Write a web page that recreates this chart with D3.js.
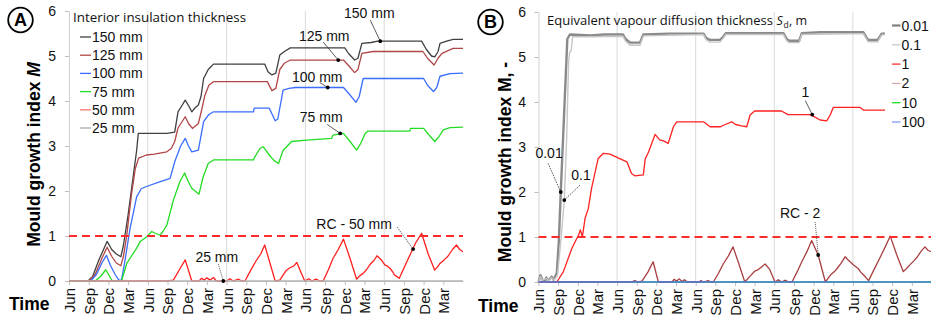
<!DOCTYPE html>
<html lang="en">
<head>
<meta charset="utf-8">
<style>
    body { margin: 0; background: #fff; }
    svg { display: block; }
</style>
</head>
<body>
<svg id="chart" width="931" height="322"></svg>
<script src="https://d3js.org/d3.v7.min.js"></script>
<script>

    // time axis: months after the first June, quarterly labels
    var tickMonths = d3.range(0, 60, 3);
    var tickLabels = ["Jun", "Sep", "Dec", "Mar", "Jun", "Sep", "Dec", "Mar", "Jun", "Sep",
        "Dec", "Mar", "Jun", "Sep", "Dec", "Mar", "Jun", "Sep", "Dec", "Mar"];
    var gridMonths = [12, 24, 36, 48];
    var yTicks = [0, 1, 2, 3, 4, 5, 6];
    var criticalM = 1;

    // panel A - interior insulation thickness, [month, M]
    var namesA = ["150 mm", "125 mm", "100 mm", "75 mm", "50 mm", "25 mm"];
    var ins150 = [[0, 0], [2.9, 0], [3.6, 0.1], [4.5, 0.45], [5.8, 0.88], [6.5, 0.7], [7.2, 0.6], [7.9, 0.54], [8.3, 0.8],
        [9.0, 1.47], [9.8, 2.35], [10.3, 2.9], [10.55, 3.28], [12, 3.28], [14.9, 3.28], [16.1, 3.31], [16.6, 3.76],
        [17.2, 3.9], [17.7, 4.02], [18.2, 3.9], [18.7, 3.76], [19.2, 3.85], [19.7, 3.91], [20.1, 4.1], [20.5, 4.5],
        [21.2, 4.7], [22, 4.82], [29.8, 4.82], [30.3, 4.65], [30.9, 4.58], [31.5, 4.62], [32.1, 5.02], [32.8, 5.1],
        [33.7, 5.18], [42, 5.18], [42.6, 5.05], [43.5, 4.91], [44.0, 4.95], [44.6, 5.28], [46, 5.3], [47, 5.33],
        [53.7, 5.33], [54.4, 5.15], [55.2, 5.0], [55.7, 4.98], [56.2, 5.1], [56.5, 5.28], [57.5, 5.33], [58.5, 5.37], [60, 5.37]];
    var ins125 = [[0, 0], [3.0, 0], [4.0, 0.15], [5.0, 0.5], [5.8, 0.75], [6.5, 0.55], [7.2, 0.4], [7.9, 0.34], [8.3, 0.55],
        [8.8, 1.02], [9.5, 1.91], [10.1, 2.5], [10.6, 2.73], [11.8, 2.8], [13, 2.82], [14.9, 2.87], [15.6, 2.95],
        [16.1, 3.1], [16.6, 3.4], [17.7, 3.65], [18.2, 3.5], [18.8, 3.39], [19.7, 3.5], [20.2, 3.8], [20.7, 4.13],
        [21.3, 4.35], [22, 4.43], [30.2, 4.43], [30.9, 4.23], [31.5, 4.28], [32.1, 4.7], [32.8, 4.84], [33.7, 4.91],
        [41.8, 4.91], [42.5, 4.8], [43.5, 4.63], [44.0, 4.7], [44.6, 5.06], [46.3, 5.1], [53.9, 5.1], [54.6, 4.95],
        [55.6, 4.8], [56.2, 4.95], [56.8, 5.06], [58.5, 5.17], [60, 5.17]];
    var ins100 = [[0, 0], [3.3, 0], [4.2, 0.15], [5.0, 0.4], [5.7, 0.57], [6.3, 0.35], [7.0, 0.15], [7.6, 0.02], [8.0, 0.02],
        [8.5, 0.43], [9.3, 1.17], [10.3, 1.87], [11.0, 2.05], [11.8, 2.1], [13.9, 2.21], [15.4, 2.28], [16.1, 2.65],
        [17.0, 3.0], [17.7, 3.17], [18.2, 3.0], [18.7, 2.87], [19.7, 2.91], [20.5, 3.54], [21.3, 3.7], [22, 3.76],
        [28.1, 3.76], [28.2, 3.84], [30.5, 3.84], [31.4, 3.56], [31.8, 3.6], [32.6, 4.24], [33.5, 4.28], [34.5, 4.3],
        [41.8, 4.3], [42.7, 4.15], [43.7, 3.97], [44.2, 4.1], [44.8, 4.5], [54, 4.5], [54.6, 4.35], [55.5, 4.21],
        [56.0, 4.3], [56.5, 4.55], [58, 4.61], [60, 4.62]];
    var ins75 = [[0, 0], [4.0, 0], [4.8, 0.1], [5.6, 0.25], [6.6, 0], [8.0, 0], [8.8, 0.39], [9.5, 0.55], [10.3, 0.73],
        [10.8, 0.87], [11.8, 0.98], [12.6, 1.1], [13.3, 1.05], [13.9, 1.02], [14.3, 1.1], [14.9, 1.24], [15.9, 1.8],
        [16.9, 2.21], [17.6, 2.4], [18.2, 2.2], [18.7, 2.06], [19.2, 2.0], [19.8, 1.93], [20.4, 2.3], [21.2, 2.61],
        [22, 2.69], [28.1, 2.69], [28.3, 2.76], [29.1, 2.95], [29.6, 2.98], [30.5, 2.8], [31.2, 2.68], [31.9, 2.61],
        [32.6, 2.9], [33.9, 3.1], [36.2, 3.13], [40, 3.17], [40.2, 3.24], [41.8, 3.28], [42.8, 3.1], [43.8, 2.91],
        [44.4, 3.05], [45.1, 3.28], [45.5, 3.33], [51.9, 3.33], [52, 3.39], [54, 3.39], [54.8, 3.25], [55.7, 3.1],
        [56.3, 3.2], [57, 3.36], [58, 3.41], [60, 3.42]];
    var ins50 = [[0, 0], [14.9, 0], [15.9, 0.02], [16.8, 0.25], [17.7, 0.47], [18.7, 0], [19.8, 0], [20.2, 0.06], [20.6, 0.02],
        [21.0, 0.07], [21.5, 0.02], [22.0, 0.08], [22.4, 0], [24.0, 0], [24.5, 0.05], [25.0, 0], [25.8, 0.04], [26.3, 0],
        [26.8, 0], [27.6, 0.22], [28.5, 0.45], [29.2, 0.6], [29.8, 0.8], [30.5, 0.45], [31.4, 0], [32.1, 0.02],
        [33.1, 0.24], [33.7, 0.3], [34.2, 0.33], [34.7, 0.41], [35.3, 0.2], [35.9, 0], [36.5, 0.05], [37.0, 0],
        [37.6, 0.04], [38.2, 0], [38.7, 0], [39.5, 0.25], [40.2, 0.5], [41.0, 0.7], [41.8, 0.93], [42.8, 0.5],
        [43.8, 0.04], [44.3, 0.12], [44.8, 0.17], [45.3, 0.25], [45.8, 0.36], [46.4, 0.45], [46.9, 0.56], [47.5, 0.48],
        [48.1, 0.36], [48.5, 0.33], [48.9, 0.28], [49.3, 0.2], [49.6, 0.13], [50.3, 0.06], [51.2, 0.35], [52.0, 0.6],
        [52.8, 0.85], [53.7, 1.06], [54.7, 0.6], [55.7, 0.24], [56.2, 0.33], [56.5, 0.39], [57.2, 0.48], [57.7, 0.55],
        [58.4, 0.7], [59, 0.8], [59.5, 0.7], [60, 0.65]];
    var ins25 = [[0, 0], [60, 0]];

    // panel B - equivalent vapour diffusion thickness Sd, [month, M]
    var namesB = ["0.01", "0.1", "1", "2", "10", "100"];
    var sd001 = [[0, 0], [0.3, 0.15], [0.6, 0.05], [0.9, 0.02], [1.2, 0.1], [1.5, 0.02], [2.0, 0.12], [2.3, 0.05],
        [2.8, 0.2], [3.1, 0.9], [3.4, 2.0], [3.9, 3.7], [4.4, 5.4], [4.8, 5.5], [8, 5.48], [10, 5.5], [12.9, 5.5],
        [13.3, 5.4], [14, 5.32], [15.5, 5.32], [16, 5.5], [20, 5.52], [25.2, 5.52], [25.6, 5.42], [26.2, 5.38],
        [27.7, 5.38], [28.2, 5.45], [28.6, 5.53], [37.4, 5.53], [37.9, 5.4], [38.3, 5.36], [39.8, 5.36], [40.2, 5.53],
        [43, 5.55], [49.6, 5.55], [50.3, 5.38], [51.8, 5.38], [52.4, 5.52], [52.9, 5.52]];
    var sd01 = [[0, 0], [0.3, 0.12], [0.6, 0.04], [1.2, 0.08], [1.6, 0.02], [2.0, 0.1], [2.4, 0.04], [2.9, 0.15],
        [3.4, 0.9], [3.94, 1.82], [4.3, 3.2], [4.6, 4.9], [4.75, 5.1], [5.0, 5.15], [5.2, 5.45], [8, 5.45],
        [12.9, 5.46], [13.3, 5.35], [14, 5.26], [15.5, 5.26], [16, 5.47], [25.2, 5.5], [25.6, 5.38], [26.2, 5.33],
        [27.7, 5.33], [28.2, 5.42], [28.6, 5.5], [37.4, 5.5], [37.9, 5.36], [38.3, 5.32], [39.8, 5.32], [40.2, 5.5],
        [49.6, 5.52], [50.3, 5.34], [51.8, 5.34], [52.4, 5.49], [52.9, 5.5]];
    var sd1 = [[0, 0], [2.8, 0], [3.8, 0.23], [5.1, 0.75], [6.1, 1.04], [6.4, 1.16], [6.7, 1.0], [7.1, 1.41], [7.6, 1.63],
        [8.1, 2.08], [9.1, 2.74], [9.9, 2.86], [10.9, 2.84], [12.4, 2.74], [13.5, 2.67], [14.2, 2.41], [14.7, 2.36],
        [16, 2.38], [16.3, 2.74], [16.8, 2.89], [17.8, 3.28], [18.5, 3.16], [19.0, 3.14], [19.8, 3.08], [20.6, 3.45],
        [21.1, 3.56], [25.2, 3.56], [26.2, 3.45], [27.8, 3.45], [28.5, 3.5], [29.5, 3.56], [30.1, 3.5], [31.0, 3.47],
        [31.8, 3.45], [32.3, 3.71], [33, 3.8], [37.1, 3.8], [38.1, 3.72], [41.4, 3.72], [42.0, 3.68], [43, 3.6],
        [44.0, 3.58], [44.5, 3.7], [45, 3.88], [49.1, 3.88], [49.6, 3.82], [52.9, 3.82]];
    var sd2 = [[0, 0], [14.2, 0], [14.7, 0.03], [15.2, 0], [15.8, 0.02], [16.7, 0.22], [17.5, 0.45], [18.3, 0], [20.4, 0],
        [20.7, 0.06], [21.1, 0.02], [21.5, 0.07], [21.9, 0.01], [22.3, 0.05], [22.7, 0], [24.5, 0], [24.8, 0.03],
        [25.2, 0], [25.9, 0.03], [26.3, 0], [26.7, 0], [27.5, 0.2], [28.2, 0.4], [29.0, 0.58], [29.7, 0.78], [30.6, 0.4],
        [31.5, 0], [32.3, 0.13], [33.0, 0.24], [33.5, 0.27], [34.0, 0.33], [34.6, 0.4], [35.3, 0.28], [36.1, 0],
        [36.6, 0.05], [37.1, 0], [37.7, 0.04], [38.2, 0], [38.7, 0], [39.5, 0.23], [40.2, 0.45], [41.0, 0.68],
        [41.7, 0.92], [42.7, 0.6], [43.8, 0], [44.2, 0.08], [44.6, 0.16], [45.1, 0.22], [45.6, 0.3], [46.2, 0.42],
        [46.8, 0.56], [47.4, 0.47], [48.1, 0.38], [48.8, 0.3], [49.2, 0.22], [49.6, 0.16], [50.4, 0.03], [51.2, 0.27],
        [52.0, 0.5], [52.9, 0.77], [53.7, 1.02], [54.7, 0.6], [55.7, 0.23], [56.2, 0.3], [56.7, 0.38], [57.3, 0.47],
        [57.8, 0.55], [58.4, 0.68], [59, 0.78], [59.5, 0.7], [60, 0.67]];
    var sd10 = [[0, 0], [60, 0]];
    var sd100 = [[0, 0], [60, 0]];

    // labelled points, [month, M]
    var notesA = [
        {text: "150 mm", at: [47.4, 5.33]},
        {text: "125 mm", at: [41.0, 4.91]},
        {text: "100 mm", at: [39.4, 4.30]},
        {text: "75 mm", at: [41.3, 3.28]},
        {text: "RC - 50 mm", at: [52.4, 0.71]},
        {text: "25 mm", at: [23.5, 0]}
    ];
    var notesB = [
        {text: "0.01", at: [3.4, 2.0]},
        {text: "0.1", at: [3.94, 1.82]},
        {text: "1", at: [41.8, 3.72]},
        {text: "RC - 2", at: [42.7, 0.6]}
    ];

    // ---- styling / layout ----
    var tickFont = "'Liberation Sans', Arial, sans-serif";
    var titleFont = "'Open Sans', 'Noto Sans', sans-serif";

    var panelA = {
        left: 69, right: 463, top: 11, bottom: 281,
        series: [ins150, ins125, ins100, ins75, ins50, ins25],
        names: namesA,
        colors: ["#404040", "#b04646", "#3a6dff", "#22dd22", "#ff1f1f", "#b4b4b4"],
        widths: [1.3, 1.3, 1.3, 1.3, 1.3, 1.4],
        order: [0, 1, 2, 3, 4, 5],
        legendColors: ["#404040", "#b04646", "#3a6dff", "#22dd22", "#ff7373", "#a8a8a8"],
        legendWidths: [1.3, 1.3, 1.3, 1.3, 1.3, 1.3],
        legendX: 80, legendLen: 11, legendY: 37, legendStep: 18.2,
        notes: notesA,
        noteStyle: [
            {lx: -11, ly: -23, sx: -10, sy: -21, dash: null},
            {lx: -14, ly: -19, sx: -15, sy: -18, dash: null},
            {lx: -10.5, ly: -6, sx: -8, sy: -5, dash: null},
            {lx: -19, ly: -11.5, sx: -13, sy: -9, dash: null},
            {lx: -59, ly: -20.5, sx: -16, sy: -22, dash: "1.5,1"},
            {lx: -6.5, ly: -19.5, sx: -5, sy: -17, dash: "1,1"}
        ],
        yLabelEnd: 56,
        xLabelTop: 288
    };

    var panelB = {
        left: 538.5, right: 931.5, top: 12, bottom: 282,
        series: [sd001, sd01, sd1, sd2, sd10, sd100],
        names: namesB,
        colors: ["#8a8a8a", "#c6c6c6", "#ff2020", "#a83f3f", "#22dd22", "#4a7de8"],
        widths: [2.4, 1.4, 1.3, 1.3, 1.3, 1.5],
        order: [4, 3, 2, 0, 1, 5],
        legendColors: ["#7f7f7f", "#c8c8c8", "#ff3030", "#dcaaaa", "#22dd22", "#7b9cf0"],
        legendWidths: [2.2, 1.3, 1.3, 1.3, 1.3, 1.3],
        legendX: 892, legendLen: 8.5, legendY: 25.5, legendStep: 19.3,
        notes: notesB,
        noteStyle: [
            {lx: -11.7, ly: -34.2, sx: -12.7, sy: -28.7, dash: "1.5,1"},
            {lx: 16.7, ly: -20.5, sx: 15.7, sy: -15, dash: "1.5,1"},
            {lx: -7, ly: -17.5, sx: -7, sy: -14, dash: null},
            {lx: -18, ly: -37.5, sx: -3, sy: -33, dash: "1,1"}
        ],
        yLabelEnd: 526,
        xLabelTop: 289
    };

    var svg = d3.select("#chart");

    var drawPanel = function (svg, p) {
        var x = d3.scaleLinear().domain([0, 60]).range([p.left, p.right]);
        var y = d3.scaleLinear().domain([0, 6]).range([p.bottom, p.top]);
        var g = svg.append("g");

        // yearly gridlines
        g.selectAll("line.grid")
            .data(gridMonths)
            .enter()
            .append("line")
            .attr("class", "grid")
            .attr("x1", function (d) { return x(d); })
            .attr("x2", function (d) { return x(d); })
            .attr("y1", p.top)
            .attr("y2", p.bottom)
            .attr("stroke", "#dadada")
            .attr("stroke-width", 1);

        // y axis
        var ya = g.append("g")
            .attr("transform", "translate(" + p.left + ",0)")
            .call(d3.axisLeft(y).tickValues(yTicks).tickSize(4).tickSizeOuter(0)
                .tickPadding(p.left - p.yLabelEnd - 4).tickFormat(d3.format("d")));
        ya.select(".domain").attr("stroke", "#d0d0d0");
        ya.selectAll(".tick line").attr("stroke", "#bfbfbf");
        ya.selectAll("text")
            .attr("font-family", tickFont)
            .attr("font-size", "14px")
            .attr("fill", "#111");

        // x axis, rotated month labels
        var xa = g.append("g")
            .attr("transform", "translate(0," + p.bottom + ")")
            .call(d3.axisBottom(x).tickValues(tickMonths).tickSize(4).tickSizeOuter(0)
                .tickFormat(function (d, i) { return tickLabels[i]; }));
        xa.select(".domain").attr("stroke", "#c8c8c8");
        xa.selectAll(".tick line").attr("stroke", "#bfbfbf");
        xa.selectAll("text")
            .attr("transform", "rotate(-90)")
            .attr("text-anchor", "end")
            .attr("x", -(p.xLabelTop - p.bottom))
            .attr("y", 0)
            .attr("dy", "0.36em")
            .attr("font-family", tickFont)
            .attr("font-size", "15px")
            .attr("fill", "#111");

        var line = d3.line()
            .x(function (d) { return x(d[0]); })
            .y(function (d) { return y(d[1]); });

        // series
        p.order.forEach(function (k) {
            g.append("path")
                .attr("d", line(p.series[k]))
                .attr("fill", "none")
                .attr("stroke", p.colors[k])
                .attr("stroke-width", p.widths[k])
                .attr("stroke-linejoin", "round");
        });

        // critical mould index
        g.append("line")
            .attr("x1", x(0))
            .attr("x2", x(60))
            .attr("y1", y(criticalM))
            .attr("y2", y(criticalM))
            .attr("stroke", "#ff2b2b")
            .attr("stroke-width", 1.8)
            .attr("stroke-dasharray", "8,5");

        // legend
        var lg = g.append("g");
        p.names.forEach(function (name, i) {
            var ly = p.legendY + i * p.legendStep;
            lg.append("line")
                .attr("x1", p.legendX)
                .attr("x2", p.legendX + p.legendLen)
                .attr("y1", ly)
                .attr("y2", ly)
                .attr("stroke", p.legendColors[i])
                .attr("stroke-width", p.legendWidths[i]);
            lg.append("text")
                .attr("x", p.legendX + p.legendLen + 1)
                .attr("y", ly)
                .attr("dy", "0.36em")
                .attr("font-family", tickFont)
                .attr("font-size", "14px")
                .attr("fill", "#111")
                .text(name);
        });

        // point labels with leader lines
        p.notes.forEach(function (n, i) {
            var s = p.noteStyle[i];
            var px = x(n.at[0]), py = y(n.at[1]);
            g.append("line")
                .attr("x1", px + s.sx)
                .attr("y1", py + s.sy)
                .attr("x2", px)
                .attr("y2", py)
                .attr("stroke", "#333")
                .attr("stroke-width", 0.8)
                .attr("stroke-dasharray", s.dash);
            g.append("circle")
                .attr("cx", px)
                .attr("cy", py)
                .attr("r", 1.9)
                .attr("fill", "#000");
            g.append("text")
                .attr("x", px + s.lx)
                .attr("y", py + s.ly)
                .attr("text-anchor", "middle")
                .attr("font-family", tickFont)
                .attr("font-size", "14px")
                .attr("fill", "#111")
                .text(n.text);
        });

        return {x: x, y: y, g: g};
    };

    drawPanel(svg, panelA);
    drawPanel(svg, panelB);

    // titles / captions
    var boldText = function (x, y, rot, size) {
        return svg.append("text")
            .attr("transform", "translate(" + x + "," + y + ")" + (rot ? " rotate(-90)" : ""))
            .attr("text-anchor", rot ? "middle" : "start")
            .attr("font-family", tickFont)
            .attr("font-weight", "bold")
            .attr("font-size", size + "px")
            .attr("fill", "#000");
    };

    var ta = boldText(40, 154.5, true, 17.5);
    ta.append("tspan").text("Mould growth index ");
    ta.append("tspan").attr("font-style", "italic").text("M");

    boldText(510.5, 162, true, 17.5).text("Mould growth index M, -");

    boldText(9, 310, false, 17.5).text("Time");
    boldText(478, 312, false, 17.5).text("Time");

    // panel letters
    [{c: "A", cx: 20.5, cy: 20}, {c: "B", cx: 490.5, cy: 22}].forEach(function (d) {
        svg.append("circle")
            .attr("cx", d.cx).attr("cy", d.cy).attr("r", 12.3)
            .attr("fill", "#fff").attr("stroke", "#000").attr("stroke-width", 1.8);
        svg.append("text")
            .attr("x", d.cx).attr("y", d.cy)
            .attr("dy", "0.36em")
            .attr("text-anchor", "middle")
            .attr("font-family", tickFont)
            .attr("font-weight", "bold")
            .attr("font-size", "18px")
            .text(d.c);
    });

    // legend headings
    svg.append("text")
        .attr("x", 73).attr("y", 22)
        .attr("font-family", titleFont)
        .attr("font-size", "12.5px")
        .attr("fill", "#111")
        .attr("textLength", 173)
        .attr("lengthAdjust", "spacingAndGlyphs")
        .text("Interior insulation thickness");

    svg.append("text")
        .attr("x", 547).attr("y", 25)
        .attr("font-family", titleFont)
        .attr("font-size", "12.5px")
        .attr("fill", "#111")
        .attr("textLength", 226)
        .attr("lengthAdjust", "spacingAndGlyphs")
        .text("Equivalent vapour diffusion thickness");
    svg.append("text")
        .attr("x", 776.5).attr("y", 25)
        .attr("font-family", titleFont)
        .attr("font-size", "12.5px")
        .attr("font-style", "italic")
        .attr("fill", "#111")
        .text("S");
    svg.append("text")
        .attr("x", 783.5).attr("y", 27.5)
        .attr("font-family", titleFont)
        .attr("font-size", "8.5px")
        .attr("fill", "#111")
        .text("d");
    svg.append("text")
        .attr("x", 789).attr("y", 25)
        .attr("font-family", titleFont)
        .attr("font-size", "12.5px")
        .attr("fill", "#111")
        .text(", m");

</script>
</body>
</html>
